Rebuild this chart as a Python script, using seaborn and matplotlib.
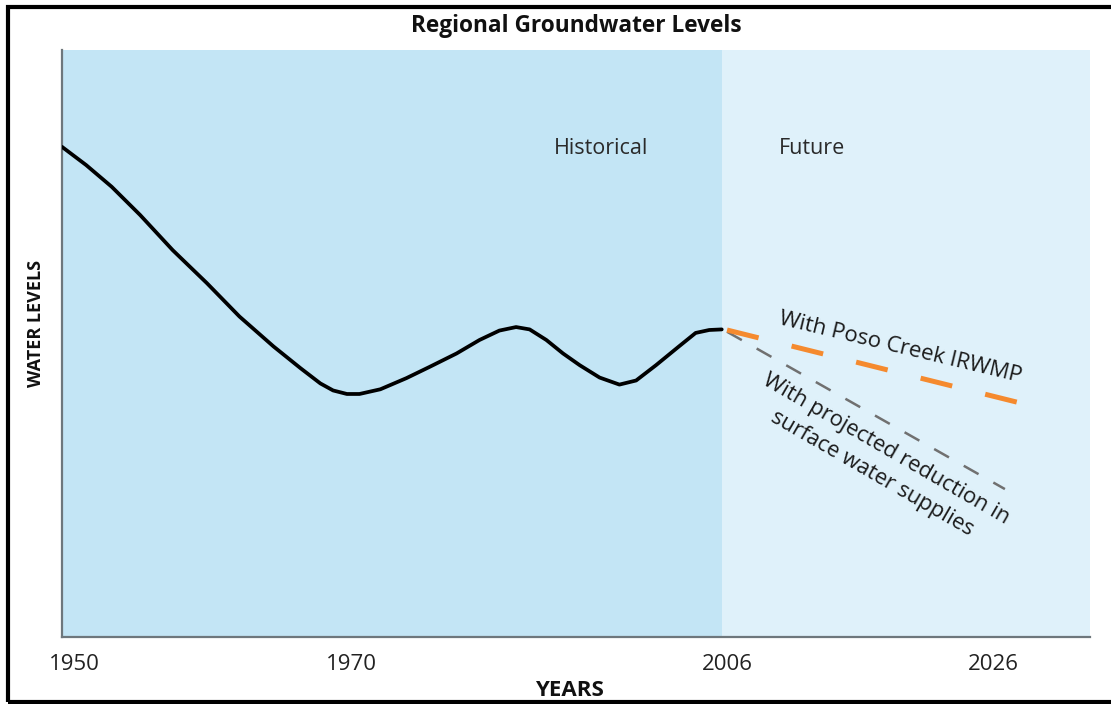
import matplotlib
matplotlib.use('Agg')
import matplotlib.pyplot as plt
import matplotlib.transforms as mtransforms
import seaborn as sns
import pandas as pd
import numpy as np

# Datos (nivel en unidades arbitrarias 0-100)
hist_years = [1950.0, 1951.7, 1953.5, 1955.5, 1957.8, 1960.2, 1962.5, 1964.9,
              1966.8, 1968.2, 1969.1, 1970.1, 1971.3, 1973.3, 1975.8, 1978.0,
              1980.6, 1982.8, 1984.7, 1986.3, 1987.6, 1989.2, 1990.8, 1992.4,
              1994.3, 1996.2, 1997.8, 1999.7, 2001.9, 2003.5, 2004.8, 2006.0]
hist_levels = [83.5, 80.4, 76.7, 71.9, 65.9, 60.3, 54.6, 49.5,
               45.8, 43.2, 42.0, 41.4, 41.4, 42.2, 44.1, 46.0,
               48.3, 50.6, 52.2, 52.8, 52.4, 50.6, 48.3, 46.3,
               44.2, 43.0, 43.7, 46.3, 49.5, 51.8, 52.3, 52.4]

irwmp_years = [2006.4, 2028.4]
irwmp_levels = [52.3, 39.9]

reduction_years = [2006.4, 2027.3]
reduction_levels = [52.0, 25.2]

tick_years = [1950, 1970, 2006, 2026]

# Escala del eje x por tramos (la figura original no es lineal en años)
anchor_years = [1900, 1950, 1970, 2006, 2026, 2100]
anchor_pos = [-710, 0, 284, 660, 926, 1910.2]


def fwd(x):
    return np.interp(x, anchor_years, anchor_pos)


def inv(p):
    return np.interp(p, anchor_pos, anchor_years)


sns.set_style("white")
plt.rcParams['font.family'] = ['Open Sans', 'DejaVu Sans']

fig = plt.figure(figsize=(11.11, 7.04), dpi=100)
ax = fig.add_axes([62 / 1111, 67 / 704, 1028 / 1111, 587 / 704])

ax.set_xscale('function', functions=(fwd, inv))
x_end = 2033.7
ax.set_xlim(1950, x_end)
ax.set_ylim(0, 100)

# Fondos historico / futuro
ax.set_facecolor('#DFF1FA')
ax.axvspan(1950, 2006, color='#C3E5F5', lw=0, zorder=0)

df_hist = pd.DataFrame({'year': hist_years, 'level': hist_levels})
sns.lineplot(data=df_hist, x='year', y='level', sort=False, color='black',
             lw=2.7, ax=ax, zorder=3)
ax.lines[-1].set_solid_joinstyle('round')
ax.lines[-1].set_solid_capstyle('round')

df_irwmp = pd.DataFrame({'year': irwmp_years, 'level': irwmp_levels})
sns.lineplot(data=df_irwmp, x='year', y='level', color='#F58A2E', lw=3.6,
             dashes=False, ax=ax, zorder=3)
ax.lines[-1].set_dashes((6.5, 6.8))

df_red = pd.DataFrame({'year': reduction_years, 'level': reduction_levels})
sns.lineplot(data=df_red, x='year', y='level', color='#707070', lw=1.8,
             ax=ax, zorder=2)
ax.lines[-1].set_dashes((6.8, 6.8))

# Textos
ax.text(1994.4, 83.3, 'Historical', ha='center', va='center', fontsize=15.5, color='#2a2a2a')
ax.text(2012.8, 83.3, 'Future', ha='center', va='center', fontsize=15.5, color='#2a2a2a')
ax.text(2019.4, 49.3, 'With Poso Creek IRWMP', ha='center', va='center',
        fontsize=16, color='#1a1a1a', rotation=-13.5, rotation_mode='anchor')
ax.text(2017.8, 30.0, 'With projected reduction in\nsurface water supplies',
        ha='center', va='center', fontsize=15.8, color='#1a1a1a', rotation=-30,
        rotation_mode='anchor', linespacing=1.45, multialignment='center')

# Ejes
ax.set_xticks(tick_years)
ax.set_xticklabels([str(t) for t in tick_years])
ax.set_yticks([])
ax.tick_params(axis='x', length=0, pad=12, labelsize=16, labelcolor='#222222')
for lab, dx in zip(ax.get_xticklabels(), [12, 6, 6, 6]):
    lab.set_transform(lab.get_transform() + mtransforms.ScaledTranslation(dx / 100, 0, fig.dpi_scale_trans))

for side in ['top', 'right']:
    ax.spines[side].set_visible(False)
for side in ['left', 'bottom']:
    ax.spines[side].set_color('#6E777C')
    ax.spines[side].set_linewidth(1.6)

ax.set_xlabel('YEARS', fontsize=16, fontweight='bold', color='#111111')
ax.xaxis.set_label_coords((569 - 62) / 1028, -(680 - 637) / 587)
ax.xaxis.label.set_va('top')
ax.set_ylabel('WATER LEVELS', fontsize=13, fontweight='bold', color='#111111')
ax.yaxis.set_label_coords(-(62 - 45) / 1028, (637 - 323) / 587)
ax.set_title('Regional Groundwater Levels', fontsize=16.3, fontweight='bold',
             color='#111111', pad=13)

# Marco negro de la figura
frame = plt.Rectangle((8 / 1111, 2 / 704), 1.2, (697 - 2) / 704, transform=fig.transFigure,
                      fill=False, edgecolor='black', lw=3, clip_on=False)
fig.patches.append(frame)

plt.savefig('out.png', dpi=100)
plt.close()
